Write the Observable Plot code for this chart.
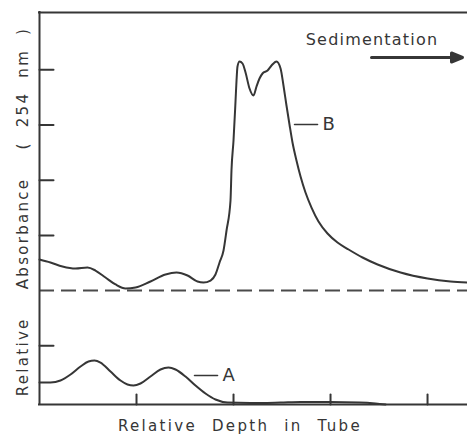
<!DOCTYPE html>
<html><head><meta charset="utf-8">
<script src="https://cdn.jsdelivr.net/npm/d3@7"></script>
<script src="https://cdn.jsdelivr.net/npm/@observablehq/plot@0.6"></script>
<style>html,body{margin:0;padding:0;background:#fff;} svg{display:block}</style>
</head><body><div id="chart"></div>
<script>
// Curve B (upper trace), relative depth vs relative absorbance
const depthB = [0, 0.113, 0.237, 0.371, 0.495, 0.577, 0.680, 0.784, 0.887, 0.990, 1.144, 1.299, 1.412, 1.526, 1.629, 1.691, 1.763, 1.814, 1.856, 1.897, 1.928, 1.969, 1.979, 2.000, 2.021, 2.031, 2.041, 2.062, 2.093, 2.124, 2.165, 2.206, 2.237, 2.268, 2.299, 2.351, 2.392, 2.443, 2.485, 2.515, 2.546, 2.577, 2.608, 2.649, 2.691, 2.742, 2.804, 2.876, 2.969, 3.072, 3.186, 3.330, 3.485, 3.722, 4.000, 4.237, 4.412];
const absB = [2.563, 2.509, 2.437, 2.400, 2.418, 2.364, 2.237, 2.111, 2.038, 2.056, 2.165, 2.292, 2.328, 2.274, 2.165, 2.147, 2.183, 2.292, 2.509, 2.726, 3.089, 3.632, 4.176, 4.719, 5.444, 5.806, 6.060, 6.150, 6.114, 5.951, 5.661, 5.534, 5.697, 5.842, 5.933, 5.987, 6.078, 6.150, 6.023, 5.716, 5.353, 5.009, 4.683, 4.357, 4.067, 3.777, 3.505, 3.252, 3.034, 2.871, 2.745, 2.600, 2.473, 2.328, 2.219, 2.165, 2.147];
// Curve A (lower trace)
const depthA = [0, 0.113, 0.216, 0.320, 0.423, 0.505, 0.567, 0.629, 0.732, 0.835, 0.907, 0.969, 1.041, 1.144, 1.247, 1.330, 1.402, 1.505, 1.608, 1.711, 1.814, 1.938, 2.175, 2.485, 2.691, 2.990, 3.299, 3.464, 3.567];
const absA = [0.335, 0.335, 0.371, 0.480, 0.625, 0.716, 0.734, 0.697, 0.534, 0.371, 0.299, 0.281, 0.317, 0.444, 0.571, 0.607, 0.571, 0.444, 0.281, 0.136, 0.027, -0.027, -0.036, -0.027, -0.018, -0.018, -0.027, -0.045, -0.063];
const xTicks = [1, 2, 3, 4];
const yTicks = [1, 3, 4, 5, 6];
const baseline = 2;
const labelNames = ["B", "A"];
const labelX = [2.629, 1.598];
const labelY = [5.009, 0.462];
const xLabel = "Relative Depth in Tube";
const yLabel = "Relative  Absorbance  ( 254 nm )";
const arrowText = "Sedimentation";

const xDomain = [0, 4.412];
const yDomain = [-0.063, 7.038];
const ink = "#363636";
const tickShape = {draw(ctx, l) { ctx.moveTo(0, 0); ctx.lineTo(0, -l); }};
const arrowShape = {draw(ctx, l) {
  const hl = 11, hw = 4.5;
  ctx.moveTo(0, 0); ctx.lineTo(0, -l + hl);
  ctx.moveTo(-hw, -l + hl); ctx.lineTo(0, -l); ctx.lineTo(hw, -l + hl); ctx.closePath();
}};

const chart = Plot.plot({
  width: 467, height: 435,
  marginLeft: 39, marginRight: 0, marginTop: 12, marginBottom: 31,
  style: {fontFamily: "DejaVu Sans", background: "#fff", color: ink},
  x: {domain: xDomain, axis: null},
  y: {domain: yDomain, axis: null},
  marks: [
    Plot.ruleY([baseline], {stroke: "#4a4a4a", strokeWidth: 2, strokeDasharray: "15,7"}),
    Plot.ruleX([xDomain[0]], {stroke: ink, strokeWidth: 2, strokeLinecap: "square"}),
    Plot.ruleY([yDomain[0]], {stroke: ink, strokeWidth: 2, strokeLinecap: "square"}),
    Plot.ruleY([yDomain[1]], {stroke: ink, strokeWidth: 2, strokeLinecap: "square"}),
    Plot.vector(xTicks, {x: d => d, y: yDomain[0], length: 10, rotate: 0, anchor: "start", shape: tickShape, stroke: ink, strokeWidth: 2}),
    Plot.vector(yTicks, {x: xDomain[0], y: d => d, length: 14, rotate: 90, anchor: "start", shape: tickShape, stroke: ink, strokeWidth: 2}),
    Plot.line(depthB, {x: depthB, y: absB, curve: "monotone-x", stroke: ink, strokeWidth: 2}),
    Plot.line(depthA, {x: depthA, y: absA, curve: "monotone-x", stroke: ink, strokeWidth: 2}),
    Plot.vector(labelNames, {x: labelX, y: labelY, length: 23, rotate: 90, anchor: "start", shape: tickShape, stroke: ink, strokeWidth: 1.6}),
    Plot.text(labelNames, {x: labelX, y: labelY, text: d => d, dx: 28, textAnchor: "start", lineAnchor: "middle", fontSize: 18, fill: ink}),
    Plot.vector([arrowText], {frameAnchor: "top-right", dx: -5, dy: 45, length: 91, rotate: 90, anchor: "end", shape: arrowShape, stroke: ink, fill: ink, strokeWidth: 3}),
    Plot.text([arrowText], {frameAnchor: "top-right", text: d => d, dx: -95.5, dy: 27, textAnchor: "middle", lineAnchor: "middle", fontSize: 16, fill: ink}),
    Plot.text([xLabel], {frameAnchor: "bottom", text: d => d, dx: -13.5, dy: 21.5, textAnchor: "middle", lineAnchor: "middle", fontSize: 15, fill: ink}),
    Plot.text([yLabel], {frameAnchor: "left", text: d => d, rotate: -90, dx: -16, dy: 3, textAnchor: "middle", lineAnchor: "middle", fontSize: 15, fill: ink})
  ]
});
chart.querySelectorAll("text").forEach(t => {
  const s = t.textContent;
  if (s === xLabel) { t.style.letterSpacing = "2.3px"; t.style.wordSpacing = "8px"; }
  else if (s === yLabel) { t.style.whiteSpace = "pre"; t.style.letterSpacing = "2.3px"; t.style.wordSpacing = "7px"; }
  else if (s === arrowText) { t.style.letterSpacing = "1.2px"; }
});
document.getElementById("chart").append(chart);
</script>
</body></html>
